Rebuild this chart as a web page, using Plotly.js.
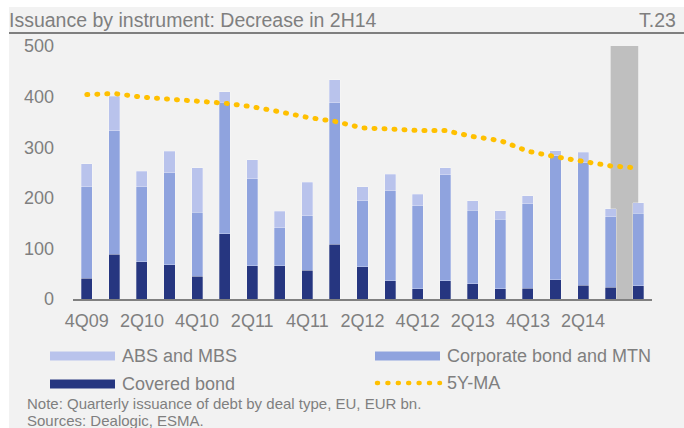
<!DOCTYPE html>
<html>
<head>
<meta charset="utf-8">
<script src="https://cdn.plot.ly/plotly-3.0.1.min.js"></script>
<style>
  html, body { margin:0; padding:0; background:#ffffff; width:684px; height:428px; overflow:hidden; }
  #chart { position:absolute; left:9px; top:7px; width:675px; height:421px; }
</style>
</head>
<body>
<div id="chart"></div>
<script>
const quarters = ['4Q09','1Q10','2Q10','3Q10','4Q10','1Q11','2Q11','3Q11','4Q11','1Q12','2Q12','3Q12','4Q12','1Q13','2Q13','3Q13','4Q13','1Q14','2Q14','3Q14','4Q14'];
const coveredBond = [41, 88, 74, 68, 45, 129, 66, 66, 57, 108, 64, 36, 20, 36, 30, 20, 21, 38, 27, 23, 26];
const corporateBond = [181, 245, 148, 182, 126, 260, 172, 75, 108, 280, 130, 178, 164, 210, 145, 138, 167, 245, 242, 140, 143];
const absMbs = [45, 68, 30, 42, 88, 21, 37, 32, 66, 45, 28, 33, 23, 13, 19, 16, 16, 10, 21, 15, 21];
const ma5y = [404, 406, 399, 396, 391, 387, 380, 370, 359, 351, 338, 336, 333, 333, 321, 313, 292, 281, 273, 263, 259];
const tickLabels = ['4Q09','2Q10','4Q10','2Q11','4Q11','2Q12','4Q12','2Q13','4Q13','2Q14'];
const shadedFrom = '3Q14', shadedTo = '4Q14';

const C_COV = '#263680', C_CORP = '#8fa3de', C_ABS = '#b9c3ec', C_MA = '#ffc000';
const TXT = '#7f7f7f';
const FONT = 'Liberation Sans, Arial, sans-serif';

const barLine = {color:'rgba(255,255,255,0.35)', width:0.8};
const traces = [
  {type:'bar', name:'Covered bond', x:quarters, y:coveredBond, marker:{color:C_COV, line:barLine}},
  {type:'bar', name:'Corporate bond and MTN', x:quarters, y:corporateBond, marker:{color:C_CORP, line:barLine}},
  {type:'bar', name:'ABS and MBS', x:quarters, y:absMbs, marker:{color:C_ABS, line:barLine}},
  {type:'scatter', mode:'lines', name:'5Y-MA', x:quarters, y:ma5y, line:{color:C_MA, width:5, dash:'1px,9px'}}
];

// page px -> paper coords (plot area: x 73..652, y 46..299 in page px)
const px = v => (v - 73) / 579;
const py = v => (299 - v) / 253;

const shapes = [
  {type:'rect', xref:'x', yref:'y', x0:shadedFrom, x1:shadedTo, y0:0, y1:500, fillcolor:'#bfbfbf', line:{width:0}, layer:'below'},
  {type:'line', xref:'paper', yref:'paper', x0:px(9), x1:px(684), y0:py(33), y1:py(33), line:{color:'#7f7f7f', width:2}},
  {type:'line', xref:'paper', yref:'paper', x0:px(50), x1:px(115), y0:py(356), y1:py(356), line:{color:C_ABS, width:9}},
  {type:'line', xref:'paper', yref:'paper', x0:px(50), x1:px(115), y0:py(384), y1:py(384), line:{color:C_COV, width:9}},
  {type:'line', xref:'paper', yref:'paper', x0:px(375), x1:px(440), y0:py(356), y1:py(356), line:{color:C_CORP, width:9}},
  {type:'line', xref:'paper', yref:'paper', x0:px(377), x1:px(440), y0:py(383), y1:py(383), line:{color:C_MA, width:4.5, dash:'1px,9.4px'}}
];

const ann = (text, x, y, xanchor, size) => ({
  text, xref:'paper', yref:'paper', x, y, xanchor, yanchor:'middle', showarrow:false,
  font:{family: FONT, size, color:TXT}, borderpad:0
});

const annotations = [
  ann('Issuance by instrument: Decrease in 2H14', px(8), py(20), 'left', 19.5),
  ann('T.23', px(677), py(20), 'right', 19.5),
  ann('ABS and MBS', px(121), py(356), 'left', 18),
  ann('Covered bond', px(121), py(384), 'left', 18),
  ann('Corporate bond and MTN', px(446), py(356), 'left', 18),
  ann('5Y-MA', px(446), py(383), 'left', 18),
  ann('Note: Quarterly issuance of debt by deal type, EU, EUR bn.', px(26), py(403), 'left', 15),
  ann('Sources: Dealogic, ESMA.', px(26), py(420), 'left', 15)
];

const layout = {
  width:675, height:421,
  margin:{l:64, r:32, t:39, b:129},
  paper_bgcolor:'#f2f2f2', plot_bgcolor:'#f2f2f2',
  barmode:'stack', bargap:0.6,
  showlegend:false,
  font:{family:FONT, color:TXT, size:18},
  xaxis:{type:'category', tickmode:'array', tickvals:tickLabels, ticktext:tickLabels,
         showline:true, linecolor:'#808080', linewidth:2, showgrid:false, zeroline:false,
         ticks:'', ticklabelstandoff:4, tickfont:{size:18, color:TXT, family:FONT}},
  yaxis:{range:[0,500], dtick:100, tick0:0, showline:false, showgrid:false, zeroline:false,
         ticks:'', ticklabelstandoff:18, tickfont:{size:18, color:TXT, family:FONT}},
  shapes, annotations
};

Plotly.newPlot('chart', traces, layout, {staticPlot:true, displayModeBar:false}).then(() => {
  document.querySelectorAll('#chart path').forEach(p => {
    const da = p.style.strokeDasharray || p.getAttribute('stroke-dasharray');
    if (da && da !== 'none' && da !== '') p.style.strokeLinecap = 'round';
  });
});
</script>
</body>
</html>
